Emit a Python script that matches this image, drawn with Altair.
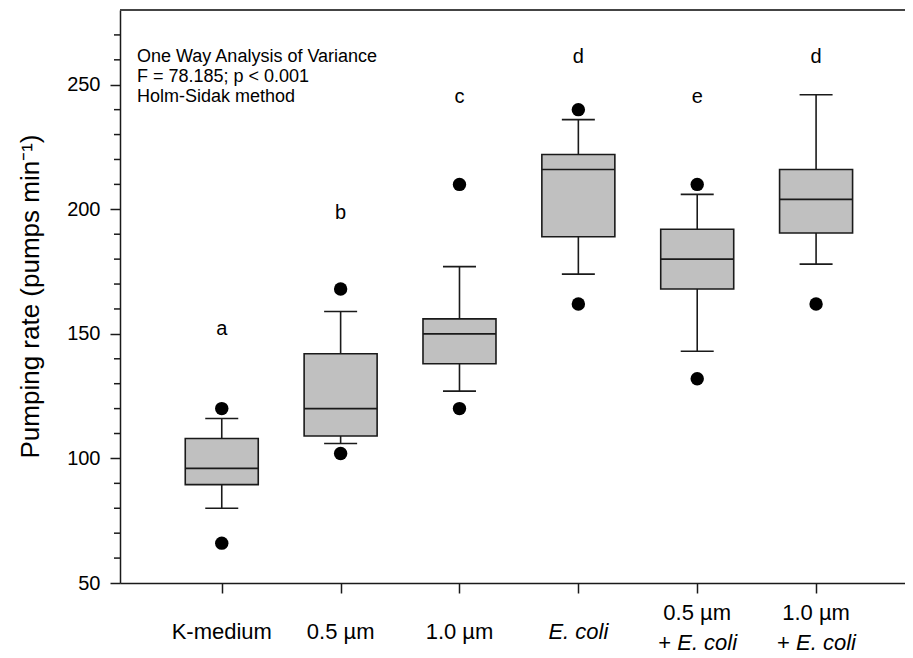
import altair as alt
import pandas as pd

categories = ["K-medium", "0.5 µm", "1.0 µm", "E. coli", "0.5 µm + E. coli", "1.0 µm + E. coli"]
lower_whisker = [80, 106, 127, 174, 143, 178]
q1 = [89.5, 109, 138, 189, 168, 190.5]
median = [96, 120, 150, 216, 180, 204]
q3 = [108, 142, 156, 222, 192, 216]
upper_whisker = [116, 159, 177, 236, 206, 246]
outlier_low = [66, 102, 120, 162, 132, 162]
outlier_high = [120, 168, 210, 240, 210, None]
letters = ["a", "b", "c", "d", "e", "d"]
letter_y = [152, 198.5, 245, 261, 245, 261]

label_line1 = ["K-medium", "0.5 µm", "1.0 µm", "E. coli", "0.5 µm", "1.0 µm"]
label_line1_italic = [False, False, False, True, False, False]
label_line2 = ["", "", "", "", "E. coli", "E. coli"]

y_major = [50, 100, 150, 200, 250]
y_minor = [v for v in range(60, 280, 10) if v % 50 != 0]

annotation = "One Way Analysis of Variance\nF = 78.185; p < 0.001\nHolm-Sidak method"
y_title = "Pumping rate (pumps min⁻¹)"

FONT = "Liberation Sans"
INK = "#1a1a1a"
W, H = 785, 573

pos = list(range(len(categories)))
df = pd.DataFrame({
    "pos": pos, "cat": categories, "lw": lower_whisker, "q1": q1, "med": median,
    "q3": q3, "uw": upper_whisker, "letter": letters, "letter_y": letter_y,
    "l1": label_line1, "it": label_line1_italic, "l2": label_line2,
})
out_rows = []
for i in pos:
    out_rows.append({"pos": i, "v": outlier_low[i]})
    if outlier_high[i] is not None:
        out_rows.append({"pos": i, "v": outlier_high[i]})
out_df = pd.DataFrame(out_rows)

xscale = alt.Scale(domain=[-0.814, 5.706], nice=False, zero=False)
yscale = alt.Scale(domain=[50, 280], nice=False, zero=False)

xaxis = alt.Axis(values=pos, labels=False, tickSize=10, title=None, grid=False)
yaxis = alt.Axis(values=y_major, tickSize=10, labelPadding=10, labelFontSize=20,
                 labelFont=FONT, labelColor="black", grid=False,
                 title=y_title, titleFont=FONT,
                 titleFontSize=26, titleFontWeight="normal", titleColor="black",
                 titleX=-90, titleY=286, titleAngle=-90, titleAlign="center",
                 titleBaseline="middle")


def X():
    return alt.X("pos:Q", scale=xscale, axis=xaxis)


def Y(field):
    return alt.Y(field, scale=yscale, axis=yaxis)


base = alt.Chart(df)

whisker = base.mark_rule(color=INK, strokeWidth=1.6).encode(
    x=X(), y=Y("lw:Q"), y2="uw:Q")

box = base.mark_bar(size=73, fill="#c0c0c0", stroke=INK, strokeWidth=1.6).encode(
    x=X(), y=Y("q1:Q"), y2="q3:Q")

med = base.mark_rule(color=INK, strokeWidth=1.6, xOffset=-36.5, x2Offset=36.5).encode(
    x=X(), x2="pos:Q", y=Y("med:Q"))

cap_lo = base.mark_rule(color=INK, strokeWidth=1.6, xOffset=-16.5, x2Offset=16.5).encode(
    x=X(), x2="pos:Q", y=Y("lw:Q"))
cap_hi = base.mark_rule(color=INK, strokeWidth=1.6, xOffset=-16.5, x2Offset=16.5).encode(
    x=X(), x2="pos:Q", y=Y("uw:Q"))

outl = alt.Chart(out_df).mark_circle(size=180, color="black", opacity=1).encode(
    x=X(), y=Y("v:Q"))

let = base.mark_text(font=FONT, fontSize=20, color="black", baseline="middle").encode(
    x=X(), y=Y("letter_y:Q"), text="letter:N")

minor_df = pd.DataFrame({"v": y_minor})
minor = alt.Chart(minor_df).mark_rule(color=INK, strokeWidth=1.5).encode(
    x=alt.value(-6), x2=alt.value(0), y=Y("v:Q"))

top_border = alt.Chart(pd.DataFrame({"v": [280]})).mark_rule(color="#444", strokeWidth=2).encode(
    x=alt.value(0), x2=alt.value(W), y=Y("v:Q"))

LBL = 22
single = base.transform_filter("datum.l2 == '' && !datum.it").mark_text(
    font=FONT, fontSize=LBL, color="black", baseline="middle").encode(
    x=X(), y=alt.value(622), text="l1:N")
single_it = base.transform_filter("datum.l2 == '' && datum.it").mark_text(
    font=FONT, fontSize=LBL, fontStyle="italic", color="black", baseline="middle").encode(
    x=X(), y=alt.value(622), text="l1:N")
two_top = base.transform_filter("datum.l2 != ''").mark_text(
    font=FONT, fontSize=LBL, color="black", baseline="middle").encode(
    x=X(), y=alt.value(603), text="l1:N")
two_plus = base.transform_filter("datum.l2 != ''").mark_text(
    font=FONT, fontSize=LBL, color="black", baseline="middle", align="left", dx=-39).encode(
    x=X(), y=alt.value(633), text=alt.value("+"))
two_it = base.transform_filter("datum.l2 != ''").mark_text(
    font=FONT, fontSize=LBL, fontStyle="italic", color="black", baseline="middle",
    align="left", dx=-20).encode(
    x=X(), y=alt.value(633), text="l2:N")

note = alt.Chart(pd.DataFrame({"t": [annotation]})).mark_text(
    font=FONT, fontSize=18, color="black", align="left", baseline="middle",
    lineBreak="\n", lineHeight=20).encode(
    x=alt.value(17), y=alt.value(47), text="t:N")

chart = alt.layer(
    whisker, box, med, cap_lo, cap_hi, outl, let, minor, top_border,
    single, single_it, two_top, two_plus, two_it, note
).properties(
    width=W, height=H,
    autosize=alt.AutoSizeParams(type="none"),
    padding={"left": 112, "top": 2, "right": 0, "bottom": 72},
    background="white",
).configure_view(stroke=None).configure_axis(
    domainColor=INK, tickColor=INK, domainWidth=1.5, tickWidth=1.5, grid=False)

chart.save("out.html", embed_options={"renderer": "svg", "actions": False})
